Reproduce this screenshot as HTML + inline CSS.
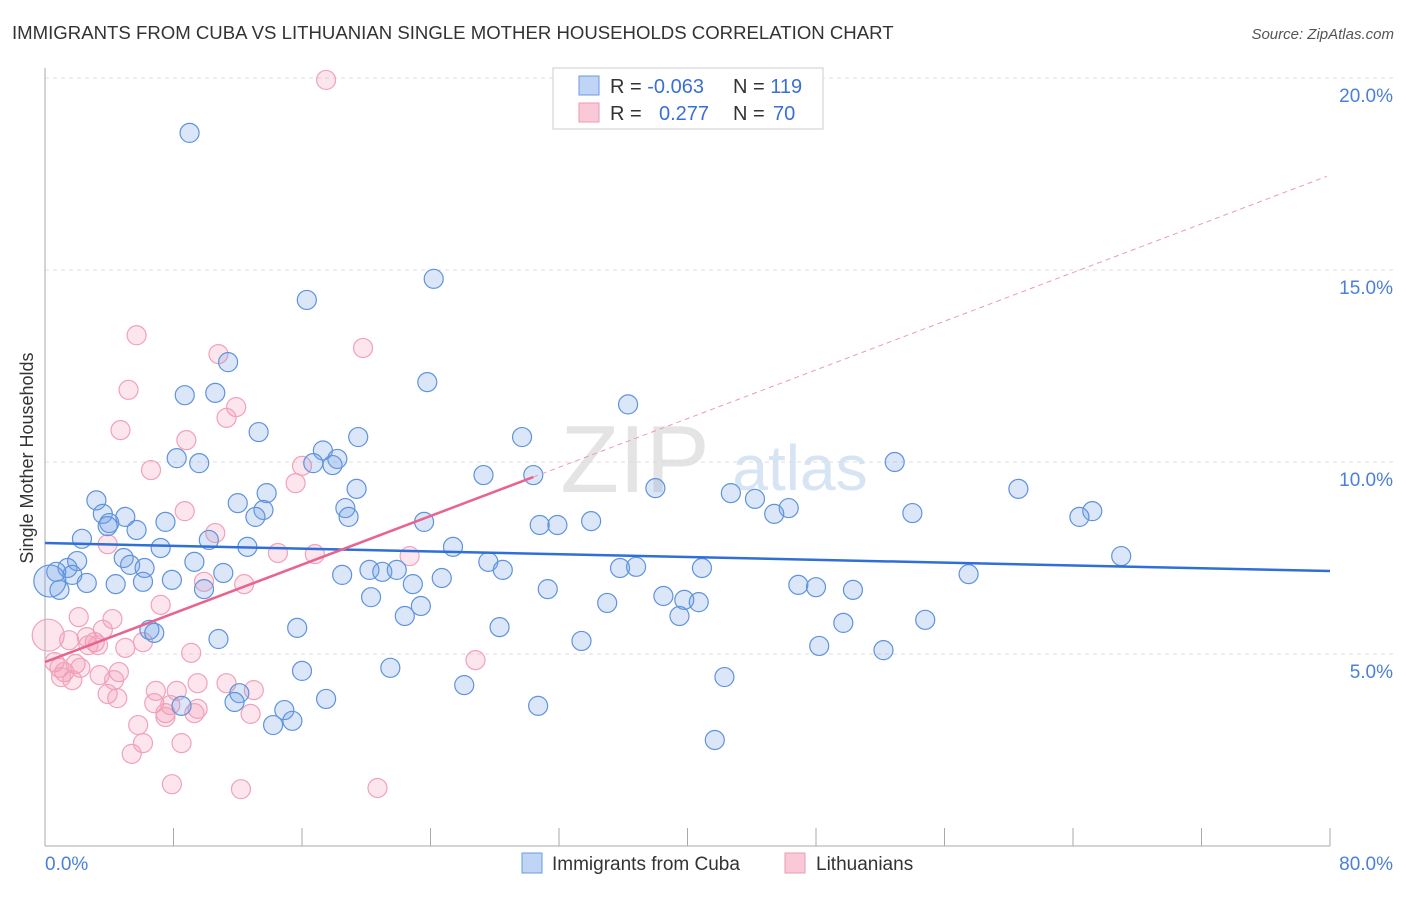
<!DOCTYPE html>
<html><head><meta charset="utf-8"><style>
body{margin:0;background:#fff;font-family:"Liberation Sans",sans-serif;}
svg text{font-family:"Liberation Sans",sans-serif;}
</style></head><body>
<svg id="chart" width="1406" height="892">
<text x="12" y="39" font-size="18.6" fill="#333">IMMIGRANTS FROM CUBA VS LITHUANIAN SINGLE MOTHER HOUSEHOLDS CORRELATION CHART</text>
<text x="1394" y="39" font-size="15" fill="#555" font-style="italic" text-anchor="end">Source: ZipAtlas.com</text>
<text x="33" y="458" font-size="18" fill="#333" text-anchor="middle" transform="rotate(-90 33 458)">Single Mother Households</text>
<text x="635" y="492" font-size="96" fill="#e4e4e4" font-family="Liberation Serif" text-anchor="middle">ZIP</text>
<text x="800" y="490" font-size="64" fill="#d6e4f4" text-anchor="middle">atlas</text>
<g id="grid"></g><g id="axes"></g><g id="pts"></g><g id="lines"></g>
<g>
<rect x="553" y="68" width="270" height="61" fill="#fff" stroke="#ccc"/>
<rect x="579" y="76" width="20" height="19" fill="#c0d5f5" stroke="#6a9ae0"/>
<rect x="579" y="103" width="20" height="19" fill="#f9c9d7" stroke="#ee9ab3"/>
<text x="610" y="93" font-size="20" fill="#333">R = <tspan fill="#3a6fd8">-0.063</tspan></text>
<text x="733" y="93" font-size="20" fill="#333">N = <tspan fill="#3a6fd8">119</tspan></text>
<text x="610" y="120" font-size="20" fill="#333">R = <tspan fill="#3a6fd8" x="659">0.277</tspan></text>
<text x="733" y="120" font-size="20" fill="#333">N = <tspan fill="#3a6fd8" x="773">70</tspan></text>
</g>
<g>
<rect x="522" y="853" width="20" height="20" fill="#c0d5f5" stroke="#6a9ae0"/>
<text x="552" y="870" font-size="19" fill="#333">Immigrants from Cuba</text>
<rect x="785" y="853" width="20" height="20" fill="#f9c9d7" stroke="#ee9ab3"/>
<text x="816" y="870" font-size="19" fill="#333">Lithuanians</text>
</g>
</svg>
<script>
const yTicks=[5,10,15,20];
const xTickCount=10;
const cubaX=[9.0,24.2,16.3,11.4,23.8,8.7,10.6,36.3,13.3,19.5,29.7,17.3,8.2,9.6,16.7,18.2,17.9,52.9,27.3,30.4,38.0,19.4,13.8,60.6,42.7,44.2,3.2,12.0,13.6,18.7,3.6,5.0,18.9,13.1,46.3,45.4,54.0,65.2,64.4,4.0,3.9,7.5,23.6,30.8,31.9,34.0,5.7,2.3,10.2,7.2,12.6,25.4,4.9,67.0,2.0,9.3,27.6,1.4,5.3,6.2,0.7,28.5,35.8,36.8,40.9,1.7,11.1,20.2,18.5,21.0,21.9,57.5,24.7,2.6,4.4,6.1,7.9,22.9,0.9,9.9,31.3,46.9,48.0,50.3,20.3,38.5,39.8,35.0,40.7,23.4,22.4,39.5,49.7,54.8,15.7,28.3,6.5,6.8,10.8,33.4,48.2,52.2,16.0,21.5,42.3,26.1,12.1,17.5,11.8,8.5,30.7,14.9,15.4,14.2,41.7,0.3];
const cubaY=[18.57,14.77,14.22,12.6,12.08,11.74,11.8,11.5,10.78,10.65,10.65,10.3,10.1,9.97,9.97,10.08,9.92,10.0,9.66,9.66,9.32,9.3,9.19,9.3,9.19,9.04,9.0,8.93,8.75,8.8,8.65,8.57,8.57,8.57,8.8,8.65,8.67,8.72,8.57,8.41,8.33,8.44,8.44,8.36,8.36,8.46,8.23,8.0,7.97,7.76,7.79,7.79,7.5,7.55,7.42,7.4,7.4,7.24,7.32,7.24,7.14,7.19,7.24,7.27,7.24,7.06,7.11,7.19,7.06,7.14,7.19,7.08,6.98,6.85,6.82,6.88,6.93,6.82,6.67,6.69,6.69,6.8,6.74,6.67,6.48,6.51,6.41,6.33,6.35,6.25,5.99,5.99,5.81,5.89,5.68,5.7,5.63,5.55,5.39,5.34,5.21,5.1,4.56,4.64,4.4,4.19,3.98,3.83,3.75,3.65,3.65,3.54,3.26,3.15,2.76,6.9];
const lithX=[17.5,5.7,19.8,10.8,5.2,11.9,11.3,4.7,8.8,16.0,6.6,15.6,8.7,10.6,3.9,14.5,16.8,22.7,9.9,12.4,7.2,2.1,4.2,0.2,3.6,1.5,2.6,3.1,5.0,6.1,2.7,3.3,9.1,26.8,0.6,0.9,1.9,2.2,1.2,4.6,1.0,1.7,3.4,4.3,11.3,9.5,6.9,8.2,13.0,3.9,4.5,6.8,7.8,9.5,7.5,7.5,9.3,12.8,5.8,6.1,8.5,5.4,7.9,12.2,20.7];
const lithY=[19.95,13.3,12.97,12.81,11.88,11.43,11.15,10.83,10.57,9.9,9.79,9.45,8.72,8.15,7.86,7.63,7.6,7.55,6.88,6.82,6.28,5.96,5.91,5.49,5.63,5.36,5.44,5.31,5.16,5.31,5.23,5.23,5.03,4.84,4.79,4.64,4.74,4.64,4.53,4.53,4.4,4.32,4.45,4.32,4.24,4.24,4.04,4.04,4.06,3.96,3.85,3.72,3.67,3.57,3.46,3.36,3.46,3.44,3.15,2.68,2.68,2.4,1.61,1.48,1.51];
const cubaBig=[0.3];
const cubaTrend=[7.89,7.16];
const lithTrend=[4.79,0.1585];
const lithSolidEnd=30.4;
const lithDashEnd=79.8;

const NS='http://www.w3.org/2000/svg';
const X0=45,X1=1330,Y0=846,PPY=38.4;
const sx=v=>X0+(v/80)*(X1-X0);
const sy=v=>Y0-v*PPY;
function mk(tag,attrs,parent){const e=document.createElementNS(NS,tag);for(const k in attrs)e.setAttribute(k,attrs[k]);parent.appendChild(e);return e;}
const grid=document.getElementById('grid'),axes=document.getElementById('axes'),pts=document.getElementById('pts'),lines=document.getElementById('lines');
yTicks.forEach(t=>{
  const l=mk('line',{x1:X0,x2:1394,y1:sy(t),y2:sy(t),stroke:'#ddd','stroke-dasharray':'4,4'},grid);
  
  
  const tx=mk('text',{x:1393,y:sy(t)+24,'font-size':19,fill:'#4a80d8','text-anchor':'end'},grid);
  tx.textContent=t.toFixed(1)+'%';
  
  
});
const ya=mk('line',{x1:X0,x2:X0,y1:68,y2:Y0,stroke:'#aaa'},axes);


const xa=mk('line',{x1:X0,x2:X1,y1:Y0,y2:Y0,stroke:'#aaa'},axes);


for(let i=1;i<=xTickCount;i++){
  const v=80*i/xTickCount;
  const t=mk('line',{x1:sx(v),x2:sx(v),y1:828,y2:Y0,stroke:'#aaa'},axes);
  
  
}
const xl0=mk('text',{x:45,y:870,'font-size':19,fill:'#4a80d8','text-anchor':'start'},axes);
xl0.textContent='0.0%';


const xl1=mk('text',{x:1393,y:870,'font-size':19,fill:'#4a80d8','text-anchor':'end'},axes);
xl1.textContent='80.0%';



lithX.forEach((x,i)=>{
  const c=mk('circle',{cx:sx(x),cy:sy(lithY[i]),r:x<0.5?16:9.5,fill:'rgba(242,150,178,0.25)',stroke:'#f0a2ba','stroke-width':1.2},pts);
  
  
});
cubaX.forEach((x,i)=>{
  const c=mk('circle',{cx:sx(x),cy:sy(cubaY[i]),r:cubaBig.includes(x)?16:9.5,fill:'rgba(110,160,232,0.25)',stroke:'#5f93dc','stroke-width':1.2},pts);
  
  
});
const bl=mk('line',{x1:sx(0),y1:sy(cubaTrend[0]),x2:sx(80),y2:sy(cubaTrend[1]),stroke:'#2f6fd6','stroke-width':2.5},lines);


const lf=v=>lithTrend[0]+lithTrend[1]*v;
const pd=mk('line',{x1:sx(lithSolidEnd),y1:sy(lf(lithSolidEnd)),x2:sx(lithDashEnd),y2:sy(lf(lithDashEnd)),stroke:'#ec9ab2','stroke-width':1,'stroke-dasharray':'5,4'},lines);


const pl=mk('line',{x1:sx(0),y1:sy(lf(0)),x2:sx(lithSolidEnd),y2:sy(lf(lithSolidEnd)),stroke:'#e8648e','stroke-width':2.5},lines);


</script>
</body></html>
